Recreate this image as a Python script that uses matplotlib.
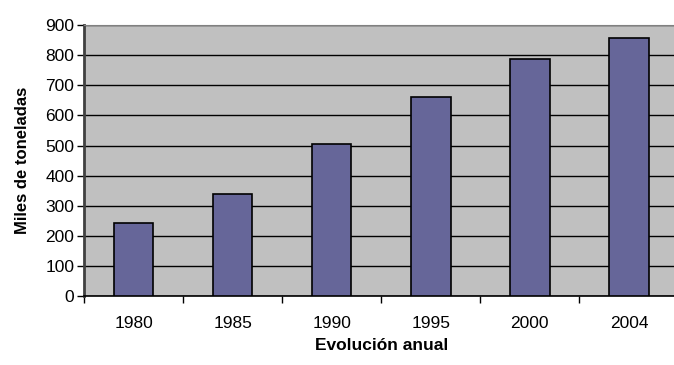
import numpy as np
import matplotlib.pyplot as plt
from matplotlib.ticker import FixedLocator, NullFormatter, FixedFormatter

plt.rcParams['font.family'] = ['Liberation Sans', 'DejaVu Sans']

years = ["1980", "1985", "1990", "1995", "2000", "2004"]
values = [242, 340, 504, 661, 787, 856]
y_ticks = [0, 100, 200, 300, 400, 500, 600, 700, 800, 900]

fig = plt.figure(figsize=(6.74, 3.65), dpi=100)
ax = fig.add_axes([0.1246, 0.1877, 0.882, 0.7438])
ax.set_facecolor("#C0C0C0")

x = np.arange(len(years))
ax.bar(x, values, width=0.4, color="#666699", edgecolor="black", linewidth=1.2, zorder=3)

ax.set_ylim(0, 900)
ax.set_xlim(-0.5, len(years) - 0.5)
ax.set_yticks(y_ticks)
ax.yaxis.grid(True, color="black", linewidth=1, zorder=1)
ax.set_axisbelow(True)

# ticks between categories, labels at the centres
ax.xaxis.set_major_locator(FixedLocator(np.arange(-0.5, len(years), 1.0)))
ax.xaxis.set_major_formatter(NullFormatter())
ax.xaxis.set_minor_locator(FixedLocator(x))
ax.xaxis.set_minor_formatter(FixedFormatter(years))
ax.tick_params(axis="x", which="major", length=5, width=1, direction="out")
ax.tick_params(axis="x", which="minor", length=0, pad=14, labelsize=12.5)
ax.tick_params(axis="y", length=5, width=1, direction="out", pad=2, labelsize=12.5)

ax.spines["left"].set_color("#404040")
ax.spines["left"].set_linewidth(2)
ax.spines["bottom"].set_color("black")
ax.spines["bottom"].set_linewidth(1.2)
ax.spines["top"].set_color("#808080")
ax.spines["right"].set_color("#808080")

ax.set_ylabel("Miles de toneladas", fontweight="bold", fontsize=12, labelpad=11)
ax.set_xlabel("Evolución anual", fontweight="bold", fontsize=12.5, labelpad=5)

fig.savefig("out.png", dpi=100)
